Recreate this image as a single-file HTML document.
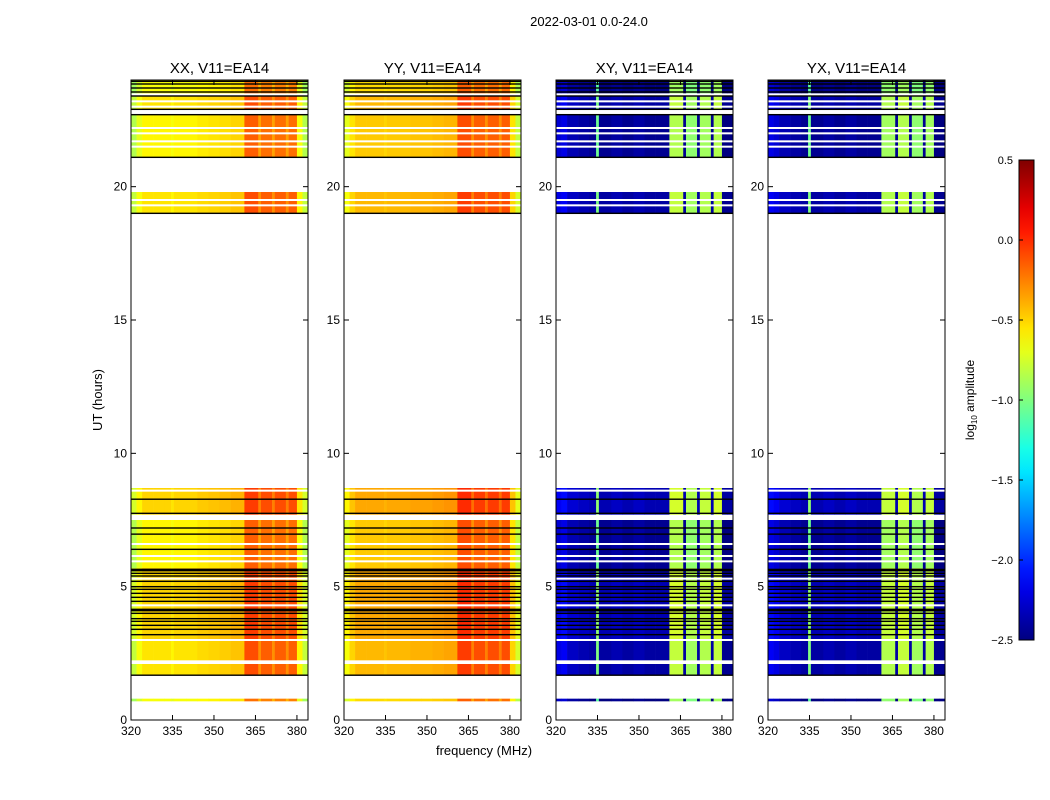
<!DOCTYPE html>
<html><head><meta charset="utf-8"><style>
body{margin:0;background:#fff;}
svg{display:block;font-family:"Liberation Sans",sans-serif;}
</style></head><body>
<svg id="fig" width="1050" height="800" xmlns="http://www.w3.org/2000/svg">
<rect width="1050" height="800" fill="#fff"/>
<text x="589" y="26" font-size="13" text-anchor="middle">2022-03-01 0.0-24.0</text>
<text x="484" y="755" font-size="13" text-anchor="middle">frequency (MHz)</text>
<text transform="translate(102,400) rotate(-90)" font-size="13" text-anchor="middle">UT (hours)</text>
<g id="panels"></g>
<g id="cbar"></g>
</svg>
<script>
// ---- data ----
const panelTitles = ["XX, V11=EA14","YY, V11=EA14","XY, V11=EA14","YX, V11=EA14"];
const freqEdges = [320,322,324,328,332,334.5,335.5,340,344,348,352,356,361,366,367,371,372,376,377,380,382,384];
const profXX = [-0.8,-0.65,-0.55,-0.55,-0.55,-0.6,-0.55,-0.55,-0.52,-0.5,-0.48,-0.45,-0.1,-0.3,-0.15,-0.3,-0.15,-0.3,-0.15,-0.6,-0.8];
const profYY = [-0.65,-0.5,-0.42,-0.42,-0.42,-0.45,-0.42,-0.42,-0.4,-0.4,-0.38,-0.36,-0.05,-0.25,-0.1,-0.25,-0.1,-0.25,-0.1,-0.5,-0.75];
const profXY = [-2.2,-2.15,-2.3,-2.35,-2.4,-1.0,-2.4,-2.35,-2.4,-2.35,-2.4,-2.4,-0.8,-2.4,-0.9,-2.4,-0.85,-2.4,-0.8,-2.45,-2.45];
const profYX = [-2.15,-2.2,-2.3,-2.35,-2.4,-1.0,-2.4,-2.35,-2.4,-2.35,-2.4,-2.4,-0.85,-2.4,-0.8,-2.4,-0.9,-2.4,-0.85,-2.45,-2.45];
const profiles = [profXX, profYY, profXY, profYX];
const segStart = [0.7, 1.68, 2.2, 3.0, 5.7, 7.7, 19.0, 21.1, 22.9, 23.5];
const segEnd   = [0.8, 2.1, 3.0, 5.7, 7.5, 8.7, 19.8, 22.7, 23.4, 24.0];
const segOffset= [-0.1, 0.0, 0.0, 0.05, -0.05, 0.05, 0.0, -0.05, 0.0, -0.1];
const whiteLines = [2.2, 3.0, 4.3, 5.3, 5.95, 6.15, 6.6, 8.6, 19.3, 19.5, 21.5, 21.7, 22.0, 22.2, 23.0, 23.2];
const blackLines = [1.68, 3.2, 3.4, 3.55, 3.7, 3.8, 4.0, 4.1, 4.15, 4.45, 4.6, 4.75, 4.9, 5.0, 5.2, 5.4, 5.5, 5.6, 5.65, 6.4, 6.97, 7.2, 7.75, 8.28, 19.0, 21.1, 22.7, 22.9, 23.4, 23.55, 23.7, 23.85, 23.95];
const yTicks = [0,5,10,15,20];
const xTicks = [320,335,350,365,380];
const cbTicks = [0.5,0.0,-0.5,-1.0,-1.5,-2.0,-2.5];
// ---- layout ----
const panelX = [131,344,556,768], pw = 177, pTop = 80, pBot = 720;
const NS = "http://www.w3.org/2000/svg";
function el(t,a,p){const e=document.createElementNS(NS,t);for(const k in a)e.setAttribute(k,a[k]);p.appendChild(e);return e;}
function yS(h){return pBot-(h/24)*(pBot-pTop);}
function xS(f,x0){return x0+(f-320)/64*pw;}
function jet(v){let t=(v+2.5)/3;t=Math.max(0,Math.min(1,t));
 const c=x=>Math.round(255*Math.max(0,Math.min(1,x)));
 return `rgb(${c(1.5-Math.abs(4*t-3))},${c(1.5-Math.abs(4*t-2))},${c(1.5-Math.abs(4*t-1))})`;}
const G=document.getElementById("panels");
panelTitles.forEach((title,pi)=>{
 const x0=panelX[pi];
 const g=el("g",{},G);
 
 
 const prof=profiles[pi];
 segStart.forEach((s,si)=>{
  for(let f=0;f<prof.length;f++){
   const r=el("rect",{x:xS(freqEdges[f],x0),y:yS(segEnd[si]),width:xS(freqEdges[f+1],x0)-xS(freqEdges[f],x0)+0.3,height:yS(segStart[si])-yS(segEnd[si]),fill:jet(prof[f]+segOffset[si])},g);
   
   
  }
 });
 whiteLines.forEach(h=>{const l=el("rect",{x:x0,y:yS(h)-1,width:pw,height:2,fill:"#fff"},g);
  });
 blackLines.forEach(h=>{const l=el("rect",{x:x0,y:yS(h)-0.7,width:pw,height:1.4,fill:"#000"},g);
  });
 const fr=el("rect",{x:x0,y:pTop,width:pw,height:pBot-pTop,fill:"none",stroke:"#000","stroke-width":1},g);
 
 const tt=el("text",{x:x0+pw/2,y:73,"font-size":15,"text-anchor":"middle"},g);tt.textContent=title;
 
 yTicks.forEach(v=>{const y=yS(v);
  el("line",{x1:x0,x2:x0+5,y1:y,y2:y,stroke:"#000"},g);el("line",{x1:x0+pw-5,x2:x0+pw,y1:y,y2:y,stroke:"#000"},g);
  const t=el("text",{x:x0-4,y:y+4,"font-size":12,"text-anchor":"end"},g);t.textContent=v;
  });
 xTicks.forEach(v=>{const x=xS(v,x0);
  el("line",{x1:x,x2:x,y1:pBot,y2:pBot-5,stroke:"#000"},g);el("line",{x1:x,x2:x,y1:pTop,y2:pTop+5,stroke:"#000"},g);
  const t=el("text",{x:x,y:pBot+15,"font-size":12,"text-anchor":"middle"},g);t.textContent=v;
  });
});
// colorbar
const C=document.getElementById("cbar");
const cx=1019,cw=15,ct=160,cb=640;
const defs=el("defs",{},C);const lg=el("linearGradient",{id:"jetg",x1:0,y1:1,x2:0,y2:0},defs);
for(let i=0;i<=20;i++){el("stop",{offset:i/20,"stop-color":jet(-2.5+3*i/20)},lg);}
const cr=el("rect",{x:cx,y:ct,width:cw,height:cb-ct,fill:"url(#jetg)",stroke:"#000"},C);

cbTicks.forEach(v=>{const y=cb-(v+2.5)/3*(cb-ct);
 el("line",{x1:cx,x2:cx+4,y1:y,y2:y,stroke:"#000"},C);
 const t=el("text",{x:1013,y:y+4,"font-size":11,"text-anchor":"end"},C);t.textContent=v.toFixed(1).replace("-","\u2212");
 });
const cl=el("text",{transform:"translate(974,400) rotate(-90)","font-size":12,"text-anchor":"middle"},C);
cl.innerHTML='log<tspan font-size="8" dy="3">10</tspan><tspan dy="-3"> amplitude</tspan>';

</script>
</body></html>
